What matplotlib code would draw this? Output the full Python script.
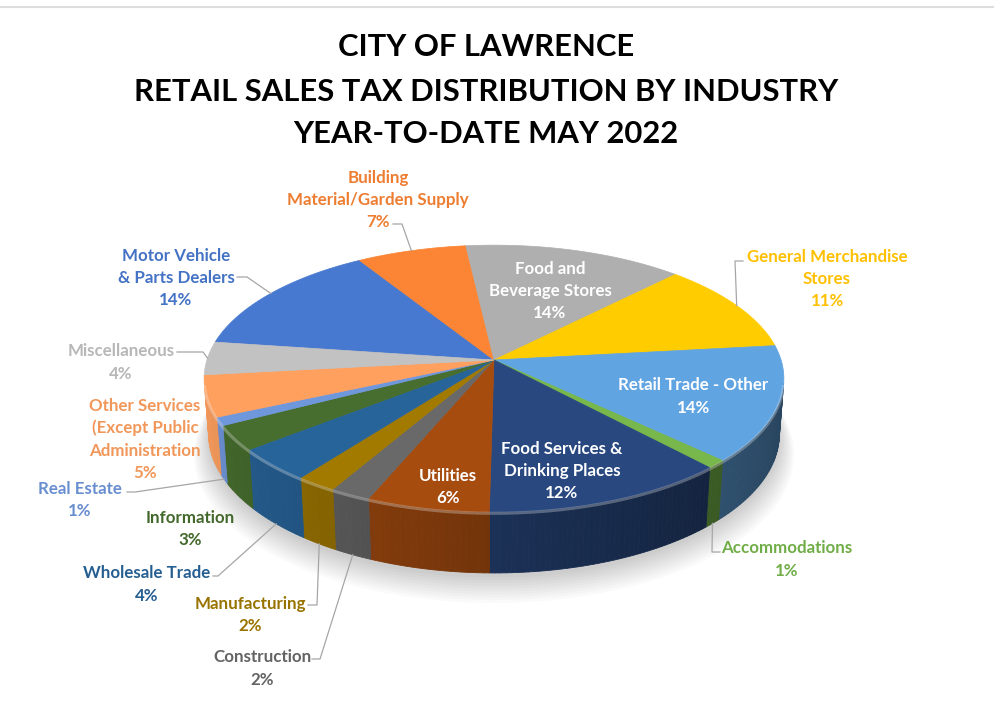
import numpy as np
import matplotlib
matplotlib.use("Agg")
import matplotlib.pyplot as plt
from matplotlib.patches import Polygon
from matplotlib.colors import to_rgb

# ---------------- data ----------------
categories = [
    "Motor Vehicle\n& Parts Dealers",
    "Building\nMaterial/Garden Supply",
    "Food and\nBeverage Stores",
    "General Merchandise\nStores",
    "Retail Trade - Other",
    "Accommodations",
    "Food Services &\nDrinking Places",
    "Utilities",
    "Construction",
    "Manufacturing",
    "Wholesale Trade",
    "Information",
    "Real Estate",
    "Other Services\n(Except Public\nAdministration",
    "Miscellaneous",
]
values = [14, 7, 14, 11, 14, 1, 12, 6, 2, 2, 4, 3, 1, 5, 4]
colors = ["#4472C4", "#ED7D31", "#A5A5A5", "#FFC000", "#5B9BD5", "#70AD47",
          "#264478", "#9E480E", "#636363", "#997300", "#255E91", "#43682B",
          "#698ED0", "#F1975A", "#B7B7B7"]
inside_labels = [False, False, True, False, True, False, True, True,
                 False, False, False, False, False, False, False]
title_lines = ["CITY OF LAWRENCE",
               "RETAIL SALES TAX DISTRIBUTION BY INDUSTRY",
               "YEAR-TO-DATE MAY 2022"]

# ---------------- layout (pixel space) ----------------
W, H = 995, 709
CX, CY = 494, 360
DIST, FOC, TILT, DEPTH = 6.42, 1843.0, 27.1, 0.219
START = -82.0
label_xy = [(176, 277), (378, 199), (550, 290), (827, 278), (693, 395.5),
            (787, 558.5), (562, 470), (448, 486), (262, 667.5), (250, 614),
            (147, 583.5), (190, 528), (80, 499), (145, 438.5), (121, 361.5)]
leader_elbows = [[(237, 277), (247, 277)], [(393, 224), (402, 224)], None,
                 [(743, 261), (735, 261)], None, [(720, 552), (712, 552)],
                 None, None, [(312, 659), (320, 659)], [(308, 605), (317, 605)],
                 [(213, 576), (218, 576)], None, [(127, 492), (135, 492)],
                 None, [(177, 352), (203, 352)]]
LINE_PITCH = 22.3
FONT = "Lato"

fig = plt.figure(figsize=(9.95, 7.09), dpi=100)
ax = fig.add_axes([0, 0, 1, 1])
ax.set_xlim(0, W)
ax.set_ylim(H, 0)
ax.axis("off")

sT, cT = np.sin(np.radians(TILT)), np.cos(np.radians(TILT))


def proj(th, r=1.0, z=0.0):
    t = np.radians(th)
    X = r * np.sin(t)
    Y = r * np.cos(t)
    depth = DIST + Y * cT - z * sT
    return CX + X * FOC / depth, CY - (Y * sT + z * cT) * FOC / depth


fracs = np.array(values, dtype=float) / np.sum(values)
edges = START + 360.0 * np.concatenate([[0.0], np.cumsum(fracs)])
lim = np.degrees(np.arccos(-1.0 / (DIST * cT)))
lo, hi = lim, 360.0 - lim

# soft shadow
for k in range(10):
    th = np.linspace(0, 360, 200)
    xs, ys = proj(th, r=1.0 + 0.006 * k, z=-DEPTH - 0.01 - 0.004 * k)
    ax.add_patch(Polygon(np.c_[xs, ys + 2 + k * 0.6], closed=True,
                         fc="#000000", ec="none", alpha=0.018, zorder=1))

# outer walls
for i in range(len(values)):
    a0, a1 = edges[i], edges[i + 1]
    v0, v1 = max(a0, lo), min(a1, hi)
    if v1 <= v0:
        continue
    nseg = max(2, int(np.ceil(v1 - v0)))
    ths = np.linspace(v0, v1, nseg + 1)
    base = np.array(to_rgb(colors[i]))
    for j in range(nseg):
        t0, t1 = ths[j], ths[j + 1]
        tm = 0.5 * (t0 + t1)
        f = 0.72 - 0.28 * np.sin(np.radians(tm))
        col = np.clip(base * f, 0, 1)
        xt, yt = proj(np.array([t0, t1]))
        xb, yb = proj(np.array([t1, t0]), z=-DEPTH)
        ax.add_patch(Polygon(np.c_[np.r_[xt, xb], np.r_[yt, yb]], closed=True,
                             fc=col, ec=col, lw=0.6, zorder=2))

# top faces
for i in range(len(values)):
    a0, a1 = edges[i], edges[i + 1]
    ths = np.linspace(a0, a1, max(3, int((a1 - a0) * 2)))
    xs, ys = proj(ths)
    pts = np.vstack([[CX, CY], np.c_[xs, ys]])
    col = np.clip(np.array(to_rgb(colors[i])) * 1.06, 0, 1)
    ax.add_patch(Polygon(pts, closed=True, fc=col, ec=col, lw=0.5, zorder=3))

# rim highlight (bevel)
th = np.linspace(lo, hi, 200)
xs, ys = proj(th)
ax.plot(xs, ys + 1.5, color="white", alpha=0.28, lw=2.2, zorder=4,
        solid_capstyle="butt")

# font sizing
probe = ax.text(0, 0, "Wholesale Trade", fontsize=12, family=FONT, fontweight="bold")
fig.canvas.draw()
wl = probe.get_window_extent().width
probe.remove()
label_fs = 12 * 127.0 / wl
probe = ax.text(0, 0, title_lines[1], fontsize=20, family=FONT, fontweight="bold")
fig.canvas.draw()
wt = probe.get_window_extent().width
probe.remove()
title_fs = 20 * 703.0 / wt

# title
title_y = [45, 90, 132]
em_t = title_fs * 100 / 72
for line, y in zip(title_lines, title_y):
    ax.text(486, y + 0.36 * em_t, line, fontsize=title_fs, family=FONT,
            fontweight="bold", color="black", ha="center", va="baseline")

# labels
em_l = label_fs * 100 / 72
for i in range(len(values)):
    lines = categories[i].split("\n") + [f"{values[i]}%"]
    xc, yc = label_xy[i]
    n = len(lines)
    col = "white" if inside_labels[i] else colors[i]
    for k, line in enumerate(lines):
        y = yc + (k - (n - 1) / 2) * LINE_PITCH
        ax.text(xc, y + 0.36 * em_l, line, fontsize=label_fs, family=FONT,
                fontweight="bold", color=col, ha="center", va="baseline", zorder=6)
    if leader_elbows[i] is not None:
        mid = 0.5 * (edges[i] + edges[i + 1])
        z = -DEPTH if np.cos(np.radians(mid)) < -0.3 else 0.0
        ax_, ay_ = proj(mid, z=z)
        pts = leader_elbows[i] + [(ax_, ay_)]
        ax.plot([p[0] for p in pts], [p[1] for p in pts], color="#A6A6A6",
                lw=0.9, zorder=5)

# top border line of the screenshot
ax.plot([0, W], [7, 7], color="#DDDDDD", lw=1.5)

fig.savefig("out.png", dpi=100, facecolor="white")
